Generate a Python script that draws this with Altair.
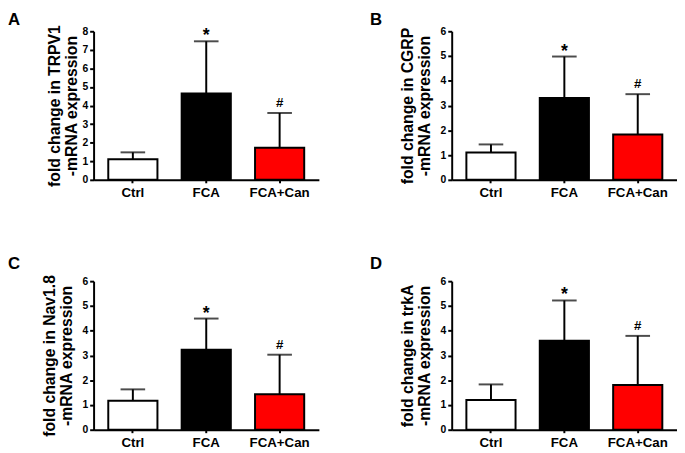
import altair as alt
import pandas as pd

groups = ["Ctrl", "FCA", "FCA+Can"]
fills = ["#FFFFFF", "#000000", "#FF0000"]
marks = ["", "*", "#"]

genes = ["TRPV1", "CGRP", "Nav1.8", "trkA"]
letters = ["A", "B", "C", "D"]
y_max = [8, 6, 6, 6]

means_A = [1.11, 4.65, 1.73]
upper_A = [1.48, 7.46, 3.60]
means_B = [1.10, 3.31, 1.83]
upper_B = [1.43, 4.98, 3.46]
means_C = [1.17, 3.23, 1.43]
upper_C = [1.63, 4.49, 3.03]
means_D = [1.20, 3.59, 1.81]
upper_D = [1.83, 5.22, 3.79]

FONT = "Liberation Sans"
W, H = 229, 151


def panel(i, means, upper, letter_dx, letter_dy, title_pad):
    df = pd.DataFrame({"group": groups, "mean": means, "upper": upper, "mark": marks})
    xsc = alt.Scale(paddingInner=0.33, paddingOuter=0.2)
    xax = alt.Axis(title=None, labelAngle=0)
    x = alt.X("group:N", sort=groups, scale=xsc, axis=xax)
    yax = alt.Axis(title=[f"fold change in {genes[i]}", "-mRNA expression"],
                   values=list(range(y_max[i] + 1)),
                   labelOverlap=False, titlePadding=title_pad)
    ysc = alt.Scale(domain=[0, y_max[i]], nice=False)

    def ych(field):
        return alt.Y(f"{field}:Q", scale=ysc, axis=yax)

    base = alt.Chart(df)
    bars = base.mark_bar(stroke="black", strokeWidth=2).encode(
        x=x, y=ych("mean"),
        fill=alt.Fill("group:N", scale=alt.Scale(domain=groups, range=fills), legend=None),
    )
    rule = base.mark_rule(strokeWidth=2, color="black").encode(
        x=x, y=ych("mean"), y2="upper:Q")
    cap = base.mark_tick(thickness=2, size=25, color="black").encode(
        x=x, y=ych("upper"))
    star = base.transform_filter("datum.mark == '*'").mark_text(
        font=FONT, fontSize=18, fontWeight="bold", baseline="alphabetic", dy=0, color="black"
    ).encode(x=x, y=ych("upper"), text="mark:N")
    hsh = base.transform_filter("datum.mark == '#'").mark_text(
        font=FONT, fontSize=13.5, fontWeight="bold", baseline="alphabetic", dy=-6, color="black"
    ).encode(x=x, y=ych("upper"), text="mark:N")
    letter = alt.Chart(pd.DataFrame({"t": [letters[i]]})).mark_text(
        font=FONT, fontSize=17, fontWeight="bold", align="left", baseline="alphabetic",
        color="black"
    ).encode(x=alt.value(letter_dx), y=alt.value(letter_dy), text="t:N")
    return alt.layer(bars, rule, cap, star, hsh, letter).properties(width=W, height=H)


pA = panel(0, means_A, upper_A, -87, -6, 3)
pB = panel(1, means_B, upper_B, -83, -6, 8)
pC = panel(2, means_C, upper_C, -87, -12, 8)
pD = panel(3, means_D, upper_D, -83, -12, 8)

row1 = alt.hconcat(pA, pB, spacing=52)
row2 = alt.hconcat(pC, pD, spacing=52)
chart = alt.vconcat(row1, row2, spacing=57).properties(
    padding={"left": 0, "top": 0, "right": 0, "bottom": 0}
).configure_view(
    stroke=None
).configure_axis(
    grid=False, domainColor="black", domainWidth=2, tickColor="black", tickWidth=2,
    labelFont=FONT, labelFontWeight="bold", labelColor="black",
    titleFont=FONT, titleFontWeight="bold", titleColor="black"
).configure_axisX(
    labelFontSize=13.5, tickSize=3, labelPadding=3
).configure_axisY(
    labelFontSize=10.5, tickSize=4, labelPadding=2, titleFontSize=16, titleLineHeight=17
)

chart.save("out.html", embed_options={"renderer": "svg", "actions": False})
